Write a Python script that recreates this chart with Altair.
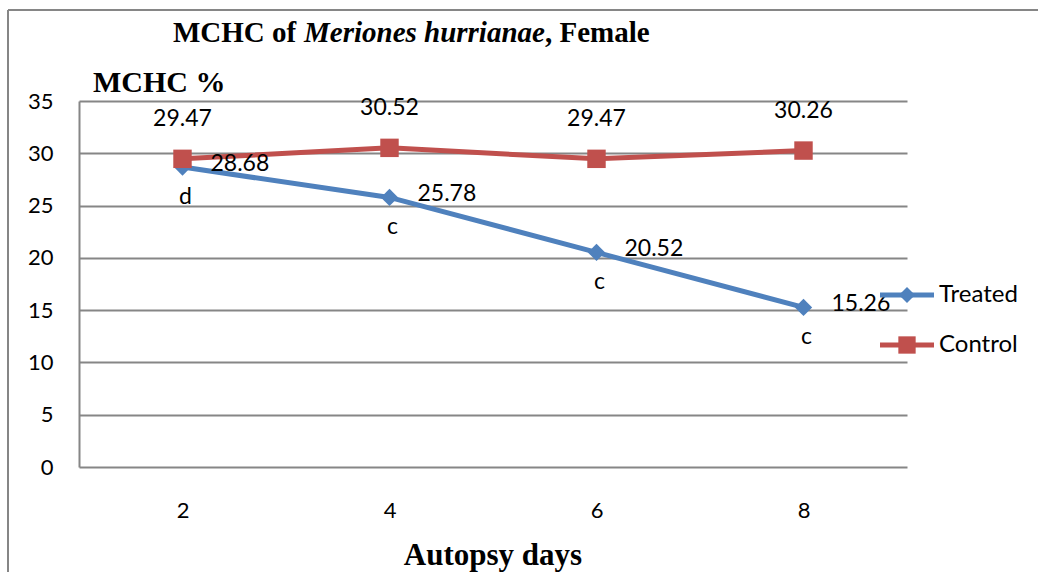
import altair as alt
import pandas as pd

# ---- data ----
days = ["2", "4", "6", "8"]
treated = [28.68, 25.78, 20.52, 15.26]
control = [29.47, 30.52, 29.47, 30.26]
letters = ["d", "c", "c", "c"]
series_names = ["Treated", "Control"]
series_colors = ["#4F81BD", "#C0504D"]
y_ticks = [0, 5, 10, 15, 20, 25, 30, 35]
title_parts = ["MCHC of", "Meriones", "hurrianae", ", Female"]
y_title = "MCHC %"
x_title = "Autopsy days"

W, H = 828, 366
LEFT, TOP = 79, 101

df_t = pd.DataFrame({"day": days, "value": treated, "series": series_names[0], "letter": letters})
df_c = pd.DataFrame({"day": days, "value": control, "series": series_names[1]})
df_all = pd.concat([df_t, df_c], ignore_index=True)
one = pd.DataFrame({"k": [0]})

LABEL_FONT = "Lato"
SERIF = "Liberation Serif"

x_enc = alt.X("day:O", sort=days,
              scale=alt.Scale(type="point", padding=0.5),
              axis=alt.Axis(title=None, labelAngle=0, ticks=False, domain=False, grid=False,
                            labelFont=LABEL_FONT, labelFontSize=22, labelColor="#000000",
                            labelPadding=43, labelBaseline="middle"))
y_enc = alt.Y("value:Q", scale=alt.Scale(domain=[0, 35], nice=False, zero=True),
              axis=alt.Axis(title=None, values=y_ticks, ticks=False, domain=True,
                            domainColor="#868686", domainWidth=2,
                            grid=True, gridColor="#868686", gridWidth=2,
                            labelFont=LABEL_FONT, labelFontSize=22, labelColor="#000000",
                            labelPadding=26))

color_scale = alt.Scale(domain=series_names, range=series_colors)

lines = alt.Chart(df_all).mark_line(strokeWidth=5).encode(
    x=x_enc, y=y_enc,
    color=alt.Color("series:N", scale=color_scale, legend=None),
    order=alt.Order("series:N", sort="descending"),
)

pts_t = alt.Chart(df_t).mark_point(shape="diamond", filled=True, opacity=1, size=300).encode(
    x=x_enc, y=y_enc, color=alt.Color("series:N", scale=color_scale, legend=None))
pts_c = alt.Chart(df_c).mark_point(shape="square", filled=True, opacity=1, size=340).encode(
    x=x_enc, y=y_enc, color=alt.Color("series:N", scale=color_scale, legend=None))

lbl_t = alt.Chart(df_t).mark_text(font=LABEL_FONT, fontSize=23, align="left", baseline="middle",
                                  dx=28, dy=-3, color="#000000").encode(
    x=x_enc, y=y_enc, text=alt.Text("value:Q", format=".2f"))
let_t = alt.Chart(df_t).mark_text(font=LABEL_FONT, fontSize=23, align="center", baseline="middle",
                                  dx=3, dy=30, color="#000000").encode(
    x=x_enc, y=y_enc, text="letter:N")
lbl_c = alt.Chart(df_c).mark_text(font=LABEL_FONT, fontSize=23, align="center", baseline="middle",
                                  dy=-40, color="#000000").encode(
    x=x_enc, y=y_enc, text=alt.Text("value:Q", format=".2f"))

# ---- outer frame ----
frame_top = alt.Chart(one).mark_rule(color="#868686", strokeWidth=2).encode(
    x=alt.value(8 - LEFT), x2=alt.value(1038 - LEFT), y=alt.value(10 - TOP))
frame_left = alt.Chart(one).mark_rule(color="#868686", strokeWidth=2).encode(
    x=alt.value(8 - LEFT), y=alt.value(10 - TOP), y2=alt.value(572 - TOP))

# ---- titles ----
def txt(s, x, y, size, italic=False, align="left"):
    return alt.Chart(one).mark_text(text=s, font=SERIF, fontSize=size, fontWeight="bold",
                                    fontStyle="italic" if italic else "normal",
                                    align=align, baseline="alphabetic", color="#000000").encode(
        x=alt.value(x), y=alt.value(y))

title_x = [173, 304, 424, 545]
title_it = [False, True, True, False]
title_layers = [txt(s, xx - LEFT, 42 - TOP, 29, it) for s, xx, it in zip(title_parts, title_x, title_it)]
ytitle = txt(y_title, 93 - LEFT, 92 - TOP, 30)
xtitle = txt(x_title, W / 2, 565 - TOP, 31, align="center")

# ---- legend ----
leg_layers = []
leg_y = [295 - TOP, 345 - TOP]
leg_shapes = ["diamond", "square"]
leg_sizes = [260, 300]
for name, col, yy, shp, sz in zip(series_names, series_colors, leg_y, leg_shapes, leg_sizes):
    leg_layers.append(alt.Chart(one).mark_rule(color=col, strokeWidth=5).encode(
        x=alt.value(880 - LEFT), x2=alt.value(934 - LEFT), y=alt.value(yy)))
    leg_layers.append(alt.Chart(one).mark_point(shape=shp, filled=True, opacity=1, size=sz, color=col).encode(
        x=alt.value(907 - LEFT), y=alt.value(yy)))
    leg_layers.append(alt.Chart(one).mark_text(text=name, font=LABEL_FONT, fontSize=24, align="left",
                                               baseline="middle", color="#000000").encode(
        x=alt.value(939 - LEFT), y=alt.value(yy)))

chart = alt.layer(
    frame_top, frame_left,
    lines, pts_t, pts_c, lbl_t, let_t, lbl_c,
    *title_layers, ytitle, xtitle, *leg_layers,
).properties(
    width=W, height=H,
    autosize=alt.AutoSizeParams(type="none"),
    padding={"left": LEFT, "top": TOP, "right": 1038 - LEFT - W, "bottom": 572 - TOP - H},
    background="#ffffff",
).configure_view(stroke=None)

chart.save("out.html", embed_options={"renderer": "svg", "actions": False})
